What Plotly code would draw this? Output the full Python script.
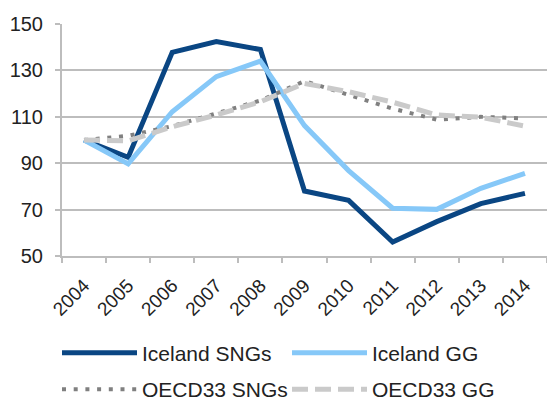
import plotly.graph_objects as go

years = ["2004", "2005", "2006", "2007", "2008", "2009", "2010", "2011", "2012", "2013", "2014"]
iceland_sngs = [100, 92.5, 137.8, 142.4, 139.0, 78.0, 74.0, 56.0, 64.8, 72.6, 77.0]
iceland_gg = [100, 89.7, 112.2, 127.3, 134.0, 106.2, 86.8, 70.6, 70.1, 79.2, 85.6]
oecd_sngs = [100, 101.8, 106.0, 111.5, 117.0, 125.4, 119.5, 113.5, 108.8, 110.0, 109.3]
oecd_gg = [100, 99.6, 105.7, 110.8, 116.5, 124.4, 120.8, 116.3, 110.8, 109.8, 106.0]

fig = go.Figure()
fig.add_trace(go.Scatter(x=years, y=iceland_sngs, name="Iceland SNGs", mode="lines",
                         line=dict(color="#0A4683", width=5), legend="legend"))
fig.add_trace(go.Scatter(x=years, y=iceland_gg, name="Iceland GG", mode="lines",
                         line=dict(color="#86C8F8", width=5), legend="legend"))
fig.add_trace(go.Scatter(x=years, y=oecd_sngs, name="OECD33 SNGs", mode="lines",
                         line=dict(color="#808080", width=4, dash="4px,7.7px"), legend="legend2"))
fig.add_trace(go.Scatter(x=years, y=oecd_gg, name="OECD33 GG", mode="lines",
                         line=dict(color="#CACACA", width=5, dash="16px,7px"), legend="legend2"))

font_family = "Liberation Sans, Arial, sans-serif"
leg_common = dict(orientation="h", xref="container", yref="container",
                  x=57 / 547, xanchor="left", yanchor="middle",
                  entrywidth=140, entrywidthmode="pixels", itemwidth=75,
                  font=dict(size=21, color="#222222"), bgcolor="rgba(0,0,0,0)")
fig.update_layout(
    width=547, height=400,
    margin=dict(l=62, r=0, t=24, b=144),
    paper_bgcolor="white", plot_bgcolor="white",
    font=dict(family=font_family, size=20, color="#222222"),
    showlegend=True,
    legend=dict(leg_common, y=1 - 353 / 400),
    legend2=dict(leg_common, y=1 - 389.5 / 400),
)
fig.update_xaxes(type="category", range=[-0.5, len(years) - 0.5], tickangle=-45,
                 tickson="boundaries",
                 ticks="outside", ticklen=5, tickcolor="#BDBDBD", tickwidth=2,
                 showline=True, linecolor="#BDBDBD", linewidth=2, automargin=False,
                 showgrid=False, tickfont=dict(size=19), ticklabelstandoff=9)
fig.update_yaxes(range=[50, 150], dtick=20, tick0=50, ticks="outside", ticklen=5,
                 tickcolor="#BDBDBD", tickwidth=2, showline=True, linecolor="#BDBDBD",
                 linewidth=2, automargin=False,
                 showgrid=True, gridcolor="#BDBDBD", gridwidth=2, zeroline=False,
                 tickfont=dict(size=20), ticklabelstandoff=8)

fig.write_html("out.html", config={"displayModeBar": False},
               post_script="document.body.style.margin='0';document.body.style.overflow='hidden';")
